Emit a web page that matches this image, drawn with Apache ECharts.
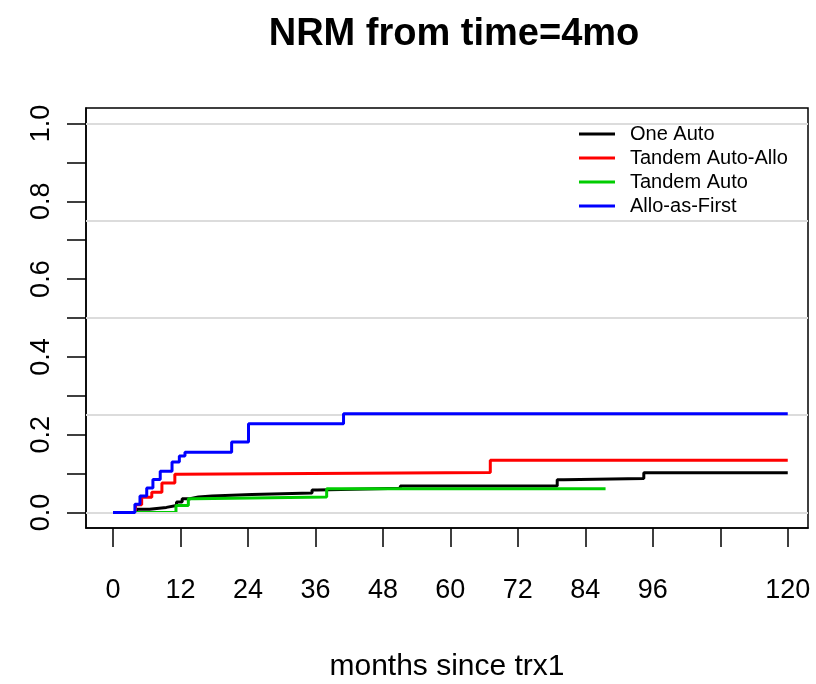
<!DOCTYPE html>
<html>
<head>
<meta charset="utf-8">
<script src="https://cdn.jsdelivr.net/npm/echarts@6/dist/echarts.min.js"></script>
<style>html,body{margin:0;padding:0;background:#fff}#c{width:816px;height:684px}</style>
</head>
<body>
<div id="c"></div>
<script>
// ---- data ----
const seriesNames = ["One Auto", "Tandem Auto-Allo", "Tandem Auto", "Allo-as-First"];

const oneAutoMonths = [0, 4.2, 6.5, 9.5, 11.3, 12.3, 13.7, 15.2, 17.6, 24.7, 35.4, 36.3, 51.1, 79.0, 80.2, 94.4, 120];
const oneAutoNRM    = [0, 0.008, 0.013, 0.018, 0.027, 0.035, 0.040, 0.042, 0.046, 0.050, 0.058, 0.062, 0.068, 0.084, 0.087, 0.102, 0.102];

const tandemAutoAlloMonths = [0, 4.0, 5.1, 6.9, 8.7, 11.0, 11.6, 67.1, 120];
const tandemAutoAlloNRM    = [0, 0.020, 0.039, 0.052, 0.076, 0.098, 0.103, 0.134, 0.134];

const tandemAutoMonths = [0, 11.2, 13.4, 14.5, 38.0, 87.6];
const tandemAutoNRM    = [0, 0.018, 0.035, 0.040, 0.061, 0.061];

const alloFirstMonths = [0, 3.9, 4.8, 6.0, 7.1, 8.4, 10.5, 11.8, 12.8, 21.1, 24.1, 41.0, 120];
const alloFirstNRM    = [0, 0.021, 0.042, 0.063, 0.085, 0.106, 0.130, 0.145, 0.155, 0.181, 0.228, 0.254, 0.254];

const xTickValues  = [0, 12, 24, 36, 48, 60, 72, 84, 96, 108, 120];
const xLabelValues = [0, 12, 24, 36, 48, 60, 72, 84, 96, 120];
const yTickValues  = [0, 0.1, 0.2, 0.3, 0.4, 0.5, 0.6, 0.7, 0.8, 0.9, 1.0];
const yLabelValues = [0, 0.2, 0.4, 0.6, 0.8, 1.0];
const gridLevels   = [0, 0.25, 0.5, 0.75, 1.0];

const colors = ["#000000", "#ff0000", "#00cd00", "#0000ff"];

// ---- build ----
function zip(xs, ys) { return xs.map((x, i) => [x, ys[i]]); }
const allData = [
  zip(oneAutoMonths, oneAutoNRM),
  zip(tandemAutoAlloMonths, tandemAutoAlloNRM),
  zip(tandemAutoMonths, tandemAutoNRM),
  zip(alloFirstMonths, alloFirstNRM)
];
const FONT = "Liberation Sans";

const series = [{
  name: "grid",
  type: "line",
  data: [],
  silent: true,
  z: 1,
  markLine: {
    silent: true,
    symbol: ["none", "none"],
    label: { show: false },
    lineStyle: { color: "#dcdcdc", width: 2, type: "solid" },
    data: gridLevels.map(v => ({ yAxis: v }))
  }
}];
allData.forEach((d, i) => {
  series.push({
    name: seriesNames[i],
    type: "line",
    step: "end",
    data: d,
    showSymbol: false,
    symbol: "none",
    z: 2 + i,
    lineStyle: { color: colors[i], width: 3 },
    itemStyle: { color: colors[i] },
    animation: false
  });
});

const chart = echarts.init(document.getElementById("c"), null, { renderer: "canvas" });
chart.setOption({
  animation: false,
  backgroundColor: "#ffffff",
  title: {
    text: "NRM from time=4mo",
    left: 449, top: 11,
    textAlign: "center",
    textStyle: { fontFamily: FONT, fontSize: 38, fontWeight: "bold", color: "#000" }
  },
  legend: {
    data: seriesNames,
    orient: "vertical",
    left: 574, top: 119,
    icon: "rect",
    itemWidth: 36, itemHeight: 3,
    itemGap: 4,
    textStyle: { fontFamily: FONT, fontSize: 20, color: "#000", padding: [0, 0, 0, 10] },
    selectedMode: false
  },
  grid: {
    left: 86, right: 8, top: 108, bottom: 156,
    containLabel: false,
    outerBoundsMode: "none",
    show: true, borderColor: "#000", borderWidth: 1.5, backgroundColor: "transparent"
  },
  xAxis: {
    type: "value",
    min: -4.8, max: 123.6,
    axisLine: { show: true, onZero: false, lineStyle: { color: "#000", width: 1.5 } },
    splitLine: { show: false },
    axisTick: { show: true, customValues: xTickValues, length: 19, lineStyle: { color: "#000", width: 1.5 } },
    axisLabel: { customValues: xLabelValues, fontFamily: FONT, fontSize: 27, color: "#000", margin: 49 },
    name: "months since trx1",
    nameLocation: "middle",
    nameGap: 124,
    nameTextStyle: { fontFamily: FONT, fontSize: 30, color: "#000" }
  },
  yAxis: {
    type: "value",
    min: -0.04, max: 1.04,
    axisLine: { show: true, onZero: false, lineStyle: { color: "#000", width: 1.5 } },
    splitLine: { show: false },
    axisTick: { show: true, customValues: yTickValues, length: 19, lineStyle: { color: "#000", width: 1.5 } },
    axisLabel: {
      customValues: yLabelValues, rotate: 90, fontFamily: FONT, fontSize: 27, color: "#000", margin: 31,
      formatter: v => v.toFixed(1)
    }
  },
  series: series
});
</script>
</body>
</html>
